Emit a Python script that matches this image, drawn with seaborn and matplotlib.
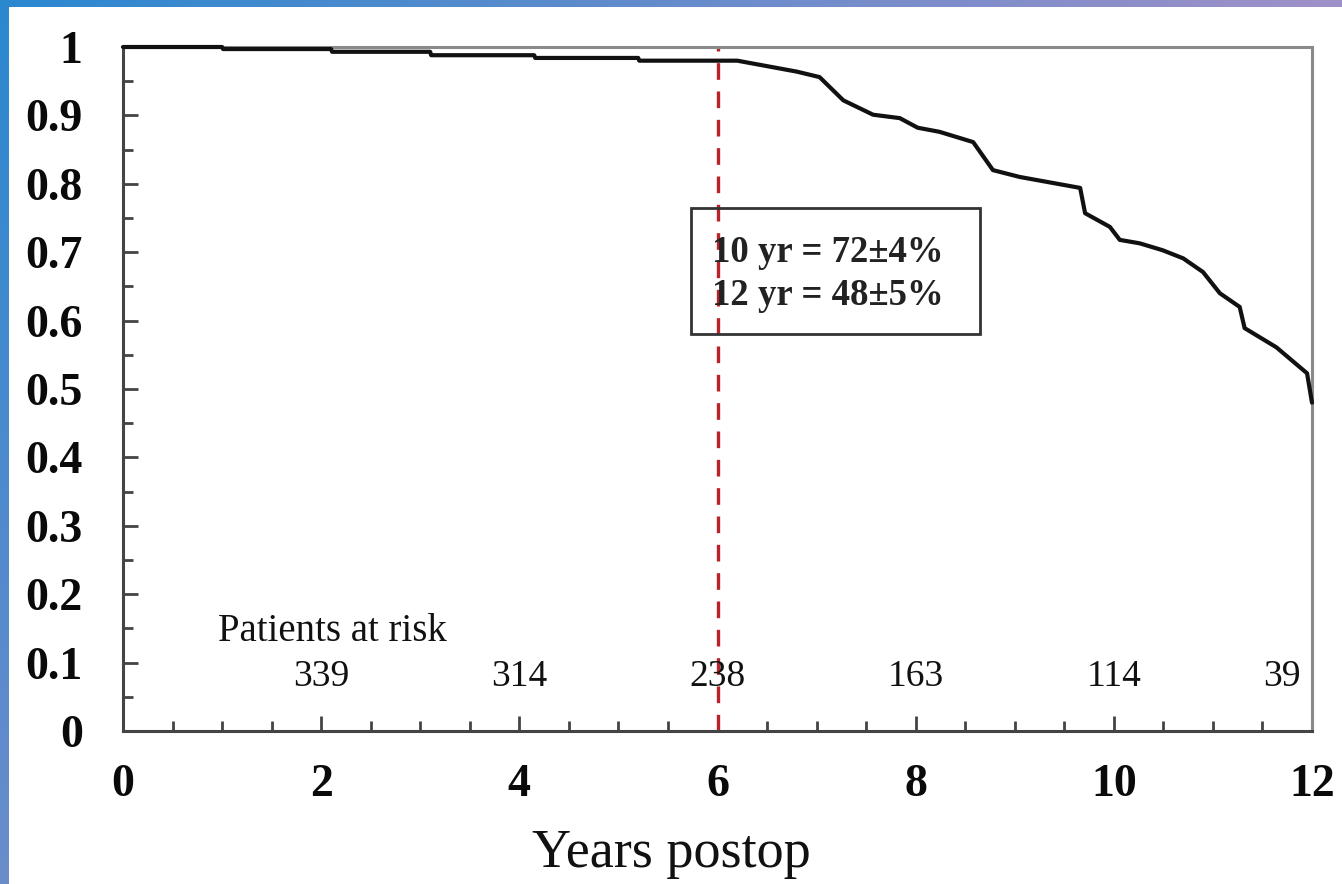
import numpy as np
import seaborn as sns
import matplotlib.pyplot as plt
from matplotlib.patches import Rectangle
from matplotlib.ticker import MultipleLocator

# survival curve
years = [0.0, 1.0, 1.01, 2.1, 2.11, 3.1, 3.11, 4.15, 4.16, 5.2, 5.21, 6.2,
         6.5, 6.8, 7.03, 7.27, 7.57, 7.84, 8.02, 8.24, 8.58, 8.78, 9.05,
         9.66, 9.71, 9.96, 10.06, 10.26, 10.49, 10.70, 10.90, 11.07, 11.27,
         11.32, 11.64, 11.95, 12.0]
survival = [1.0, 1.0, 0.997, 0.997, 0.993, 0.993, 0.988, 0.988, 0.984, 0.984,
            0.980, 0.980, 0.972, 0.964, 0.956, 0.922, 0.901, 0.896, 0.882,
            0.876, 0.861, 0.820, 0.810, 0.794, 0.757, 0.737, 0.718, 0.713,
            0.703, 0.691, 0.671, 0.640, 0.620, 0.589, 0.561, 0.523, 0.480]

at_risk_years = [2, 4, 6, 8, 10, 11.7]
at_risk_counts = [339, 314, 238, 163, 114, 39]

box_lines = ["10 yr = 72\u00b14%", "12 yr = 48\u00b15%"]
x_ticks = [0, 2, 4, 6, 8, 10, 12]
y_ticks = [0, 0.1, 0.2, 0.3, 0.4, 0.5, 0.6, 0.7, 0.8, 0.9, 1]
y_tick_labels = ["0", "0.1", "0.2", "0.3", "0.4", "0.5", "0.6", "0.7", "0.8", "0.9", "1"]

sns.set_style("ticks")
plt.rcParams["font.family"] = ["Liberation Serif", "DejaVu Serif"]

W, H = 1342, 884
fig = plt.figure(figsize=(W / 100, H / 100), dpi=100)

# blue/purple frame behind the white page
bg = fig.add_axes([0, 0, 1, 1], zorder=-10)
gx, gy = np.meshgrid(np.linspace(0, 1, W), np.linspace(0, 1, H))
t = np.clip(gx + 0.55 * gy, 0, 1)[..., None]
c0 = np.array([42, 136, 208]) / 255
c1 = np.array([160, 144, 200]) / 255
img = c0 * (1 - t) + c1 * t
img[7:, 9:, :] = 1.0
bg.imshow(img, aspect="auto", extent=(0, 1, 0, 1))
bg.axis("off")

ax = fig.add_axes([123 / W, 1 - 731 / H, (1312 - 123) / W, (731 - 47) / H])
ax.set_facecolor("none")

sns.lineplot(x=years, y=survival, ax=ax, color="#111111", linewidth=3,
             estimator=None, sort=False, zorder=4)
for ln in ax.lines:
    ln.set_clip_on(False)

ax.axvline(6, color="#b8222a", linewidth=2.4, linestyle=(0, (5, 3.5)), zorder=1)

ax.set_xlim(0, 12)
ax.set_ylim(0, 1)
ax.set_xticks(x_ticks)
ax.set_xticklabels([str(v) for v in x_ticks])
ax.set_yticks(y_ticks)
ax.set_yticklabels(y_tick_labels)
ax.xaxis.set_minor_locator(MultipleLocator(0.5))
ax.yaxis.set_minor_locator(MultipleLocator(0.05))
ax.tick_params(axis="both", which="both", direction="in", color="#444444", width=2)
ax.tick_params(axis="both", which="major", length=11, labelsize=33, labelcolor="#0a0a0a")
ax.tick_params(axis="both", which="minor", length=7)
ax.tick_params(axis="x", which="major", pad=24)
ax.tick_params(axis="y", which="major", pad=29)
for lab in ax.get_xticklabels() + ax.get_yticklabels():
    lab.set_fontweight("bold")

for side in ["left", "bottom"]:
    ax.spines[side].set_color("#444444")
    ax.spines[side].set_linewidth(2.2)
for side in ["top", "right"]:
    ax.spines[side].set_color("#8a8a8a")
    ax.spines[side].set_linewidth(2.2)

ax.set_xlabel("Years postop", fontsize=39, color="#111111")
ax.xaxis.set_label_coords(0.461, -0.142)

# patients at risk
ax.text(0.96, 0.145, "Patients at risk", fontsize=28, va="center", ha="left", color="#111111")
for xr, n in zip(at_risk_years, at_risk_counts):
    ax.text(xr, 0.080, str(n), fontsize=27, va="center", ha="center", color="#111111")

# annotation box
ax.add_patch(Rectangle((5.73, 0.580), 2.92, 0.185, fill=False,
                       edgecolor="#333333", linewidth=2, zorder=3))
ax.text(5.94, 0.699, box_lines[0], fontsize=26.5, fontweight="bold", va="center",
        ha="left", color="#222222")
ax.text(5.94, 0.636, box_lines[1], fontsize=26.5, fontweight="bold", va="center",
        ha="left", color="#222222")

fig.savefig("out.png", dpi=100)
